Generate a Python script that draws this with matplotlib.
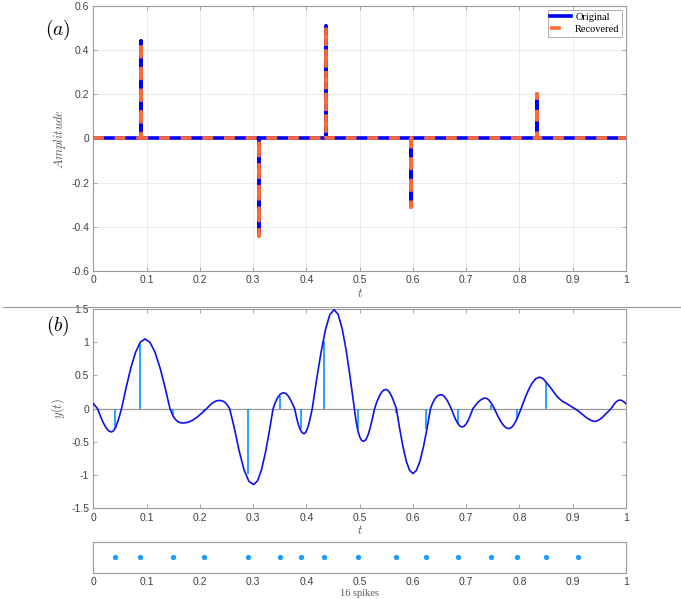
import numpy as np
import matplotlib
matplotlib.use("Agg")
import matplotlib.pyplot as plt
from matplotlib.lines import Line2D
from matplotlib.ticker import FuncFormatter

plt.rcParams["font.family"] = ["Liberation Sans", "DejaVu Sans"]
plt.rcParams["mathtext.fontset"] = "cm"
plt.rcParams["axes.unicode_minus"] = False

BLUE = "#0000FF"
ORANGE = "#FF6A35"
LIGHT = "#1E9BFF"
AXC = "#9A9A9A"
TXT = "#404040"
LAB = "#5A5A5A"

# ---- panel (a): sparse spike train, original vs recovered ----
spike_t = [0.090, 0.311, 0.437, 0.597, 0.833]
orig_amp = [0.44, -0.44, 0.51, -0.31, 0.20]
rec_amp = [0.44, -0.44, 0.51, -0.31, 0.20]

curve_t = [0.000, 0.004, 0.008, 0.0132, 0.0184, 0.0236, 0.0288, 0.034,
           0.0378, 0.0416, 0.0454, 0.0492, 0.053, 0.0618, 0.0706, 0.0794, 0.0882, 0.097,
           0.1064, 0.1158, 0.1252, 0.1346, 0.144, 0.149, 0.154, 0.159, 0.164, 0.169,
           0.1777, 0.1864, 0.1951, 0.2038, 0.2125, 0.2172, 0.2219, 0.2266, 0.2313, 0.236,
           0.240, 0.244, 0.248, 0.252, 0.256, 0.265, 0.274, 0.283, 0.292, 0.301,
           0.3083, 0.3156, 0.3229, 0.3302, 0.3375, 0.3415, 0.3455, 0.3495, 0.3535, 0.3575,
           0.3616, 0.3657, 0.3698, 0.3739, 0.378, 0.3815, 0.3850, 0.3886, 0.3921, 0.3956,
           0.3987, 0.4018, 0.4048, 0.4079, 0.411, 0.4192, 0.4274, 0.4356, 0.4438, 0.452,
           0.4596, 0.4672, 0.4748, 0.4824, 0.490, 0.4935, 0.497, 0.5005, 0.504, 0.5075,
           0.5116, 0.5157, 0.5198, 0.5239, 0.528, 0.5322, 0.5364, 0.5406, 0.5448, 0.549,
           0.553, 0.557, 0.561, 0.565, 0.569, 0.5752, 0.5814, 0.5876, 0.5938, 0.600,
           0.6066, 0.6132, 0.6198, 0.6264, 0.633, 0.637, 0.641, 0.645, 0.649, 0.653,
           0.6568, 0.6606, 0.6644, 0.6682, 0.672, 0.6761, 0.6802, 0.6843, 0.6884, 0.6925,
           0.6965, 0.7005, 0.7045, 0.7085, 0.7125, 0.7172, 0.7219, 0.7266, 0.7313, 0.736,
           0.7394, 0.7428, 0.7462, 0.7496, 0.753, 0.7584, 0.7638, 0.7692, 0.7746, 0.780,
           0.7846, 0.7892, 0.7938, 0.7984, 0.803, 0.8099, 0.8168, 0.8237, 0.8306, 0.8375,
           0.844, 0.850, 0.855, 0.860, 0.865, 0.869, 0.875, 0.881, 0.888, 0.894,
           0.900, 0.906, 0.913, 0.919, 0.925, 0.931, 0.936, 0.940, 0.945, 0.950,
           0.955, 0.960, 0.9656, 0.972, 0.976, 0.980, 0.984, 0.9875, 0.991, 0.994,
           0.997, 1.000]
curve_y = [0.075, 0.040, 0.0, -0.108, -0.206, -0.283, -0.333, -0.35,
           -0.333, -0.283, -0.206, -0.108, 0.0, 0.324, 0.617, 0.849, 0.999, 1.05,
           0.999, 0.849, 0.617, 0.324, 0.0, -0.100, -0.160, -0.195, -0.212, -0.215,
           -0.204, -0.174, -0.126, -0.066, 0.0, 0.039, 0.074, 0.101, 0.119, 0.125,
           0.122, 0.112, 0.090, 0.050, 0.0, -0.300, -0.640, -0.920, -1.090, -1.14,
           -1.084, -0.922, -0.670, -0.352, 0.0, 0.090, 0.160, 0.205, 0.232, 0.24,
           0.228, 0.194, 0.141, 0.074, 0.0, -0.130, -0.240, -0.315, -0.360, -0.375,
           -0.357, -0.303, -0.221, -0.116, 0.0, 0.440, 0.840, 1.180, 1.410, 1.49,
           1.417, 1.205, 0.876, 0.460, 0.0, -0.200, -0.340, -0.430, -0.478, -0.49,
           -0.466, -0.396, -0.288, -0.151, 0.0, 0.100, 0.180, 0.240, 0.278, 0.29,
           0.276, 0.235, 0.171, 0.090, 0.0, -0.301, -0.573, -0.789, -0.927, -0.975,
           -0.927, -0.789, -0.573, -0.301, 0.0, 0.085, 0.145, 0.185, 0.205, 0.21,
           0.200, 0.170, 0.123, 0.065, 0.0, -0.085, -0.162, -0.222, -0.262, -0.275,
           -0.262, -0.222, -0.162, -0.085, 0.0, 0.049, 0.094, 0.129, 0.152, 0.16,
           0.152, 0.129, 0.094, 0.049, 0.0, -0.093, -0.176, -0.243, -0.285, -0.30,
           -0.285, -0.243, -0.176, -0.093, 0.0, 0.147, 0.279, 0.384, 0.452, 0.475,
           0.455, 0.40, 0.35, 0.30, 0.245, 0.20, 0.15, 0.11, 0.08, 0.05,
           0.02, -0.01, -0.05, -0.09, -0.13, -0.16, -0.18, -0.19, -0.185, -0.165,
           -0.135, -0.095, -0.05, 0.0, 0.05, 0.09, 0.118, 0.13, 0.127, 0.115,
           0.097, 0.075]

# sample locations (16 spikes) and the sampled values shown as stems
samp_t = [0.040, 0.088, 0.150, 0.208, 0.290, 0.350, 0.390, 0.433,
          0.497, 0.569, 0.624, 0.685, 0.746, 0.795, 0.850, 0.910]
samp_y = [-0.29, 0.97, -0.10, -0.03, -0.98, 0.19, -0.31, 1.02,
          -0.30, -0.06, -0.30, -0.22, 0.05, -0.15, 0.40, -0.02]

xticks = np.arange(0, 1.01, 0.1)
fmt = FuncFormatter(lambda v, p: f"{round(v, 6) + 0.0:g}")


def style(ax, top=True):
    for sp in ax.spines.values():
        sp.set_color(AXC)
        sp.set_linewidth(0.8)
    ax.tick_params(direction="in", length=3, width=0.6, color=AXC, labelcolor=TXT,
                   labelsize=7.5, top=top, right=top, pad=3)
    ax.xaxis.set_major_formatter(fmt)
    ax.yaxis.set_major_formatter(fmt)


def spike_path(ts, amps):
    x = np.concatenate([[0.0], np.repeat(ts, 3), [1.0]])
    y = np.zeros(len(x))
    y[2:-1:3] = amps
    return x, y


fig = plt.figure(figsize=(6.81, 5.99), dpi=100)

# ---------- (a) ----------
ax1 = fig.add_axes([0.1370, 0.5476, 0.7822, 0.4424])
xo, yo = spike_path(spike_t, orig_amp)
xr, yr = spike_path(spike_t, rec_amp)
ax1.plot(xo, yo, color=BLUE, lw=2.6, label="Original", zorder=3)
ax1.plot(xr, yr, color=ORANGE, lw=2.6, dashes=(3.0, 3.0), label="Recovered", zorder=4)
ax1.set_xlim(0, 1)
ax1.set_ylim(-0.6, 0.6)
ax1.set_xticks(xticks)
ax1.set_yticks(np.arange(-0.6, 0.61, 0.2))
ax1.grid(True, color="#E8E8E8", lw=0.6)
ax1.set_axisbelow(True)
style(ax1)
ax1.set_xlabel(r"$t$", color=LAB, fontsize=9, labelpad=1)
ax1.set_ylabel(r"$Amplitude$", color=LAB, fontsize=9, labelpad=2)
leg = ax1.legend(loc="upper right", frameon=True, fancybox=False,
                 edgecolor=AXC, handlelength=2.0, handletextpad=0.4,
                 borderpad=0.25, labelspacing=0.3, borderaxespad=0.35,
                 prop={"family": "Liberation Serif", "size": 7.5})
leg.get_frame().set_linewidth(0.7)

# ---------- (b) ----------
ax2 = fig.add_axes([0.1370, 0.1511, 0.7822, 0.3331])
ax2.axhline(0, color=AXC, lw=0.9, zorder=1)
ax2.vlines(samp_t, 0, samp_y, color=LIGHT, lw=1.3, zorder=2)
ax2.plot(curve_t, curve_y, color="#1010EE", lw=1.2, zorder=3)
ax2.set_xlim(0, 1)
ax2.set_ylim(-1.5, 1.5)
ax2.set_xticks(xticks)
ax2.set_yticks(np.arange(-1.5, 1.51, 0.5))
style(ax2)
ax2.set_xlabel(r"$t$", color=LAB, fontsize=9, labelpad=1)
ax2.set_ylabel(r"$y(t)$", color=LAB, fontsize=9, labelpad=3)

# ---------- spike locations strip ----------
ax3 = fig.add_axes([0.1370, 0.0429, 0.7822, 0.0528])
ax3.plot(samp_t, np.full(len(samp_t), 0.5), "o", color=LIGHT, ms=3.8, mec="none")
ax3.set_xlim(0, 1)
ax3.set_ylim(0, 1)
ax3.set_xticks(xticks)
ax3.set_yticks([])
style(ax3, top=False)
ax3.tick_params(axis="x", length=0)
ax3.set_xlabel("16 spikes", color=LAB, fontsize=7.5, family="Liberation Serif", labelpad=1)

# panel tags and separator
fig.text(58 / 681, 1 - 30 / 599, r"$(a)$", fontsize=14, ha="center", va="center")
fig.text(58 / 681, 1 - 326 / 599, r"$(b)$", fontsize=14, ha="center", va="center")
fig.add_artist(Line2D([0.005, 1.0], [0.488, 0.488], color=AXC, lw=0.8))

fig.savefig("out.png", dpi=100)
